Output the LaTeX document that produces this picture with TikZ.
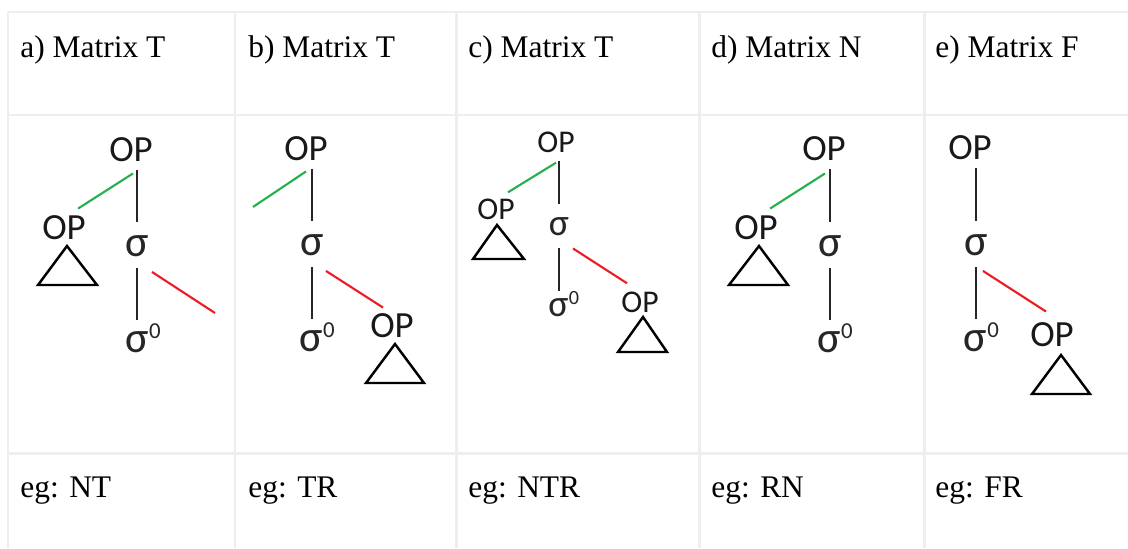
\documentclass[tikz,border=0pt]{standalone}
\usepackage{fontspec}
\setmainfont{Liberation Serif}
\newfontfamily\opfont{Carlito}
\definecolor{paintgreen}{RGB}{34,177,76}
\definecolor{paintred}{RGB}{237,28,36}
\definecolor{rulegray}{RGB}{238,238,238}
\newcommand{\sigzero}[2]{σ\kern0.3pt\raisebox{#1}{\fontsize{#2}{#2}\selectfont 0}}

\begin{document}
\begin{tikzpicture}[x=0.02cm, y=-0.02cm,
    cell/.style={anchor=base west, inner sep=0pt, font=\fontsize{17.9}{21}\selectfont},
    op/.style={inner sep=0pt, text=black!90, font=\opfont\fontsize{21}{24}\selectfont},
    small op/.style={op, font=\opfont\fontsize{18}{21}\selectfont},
    sg/.style={inner sep=0pt, text=black!85, font=\opfont\fontsize{25}{28}\selectfont},
    small sg/.style={sg, font=\opfont\fontsize{21.5}{24}\selectfont},
    gridline/.style={draw=rulegray, line width=1.7pt},
    upper stem/.style={line width=1.2pt, black!85, shorten <=4.5pt, shorten >=7.5pt},
    lower stem/.style={line width=1.2pt, black!85, shorten <=6.5pt, shorten >=1.5pt},
    greenbr/.style={line width=1.2pt, paintgreen},
    redbr/.style={line width=1.2pt, paintred},
    tri/.style={line width=1.4pt, line join=miter}]
    \fill[white] (0,0) rectangle (1128,548);
    \useasboundingbox (0,0) rectangle (1128,548);

    \draw[gridline] (8,12) -- (1128,12);
    \draw[gridline] (8,115) -- (1128,115);
    \draw[gridline] (8,453) -- (1128,453);
    \foreach \x in {8,235,456,699,924}
        \draw[gridline] (\x,12) -- (\x,548);

    \node[cell] (head-a) at (20,57) {a) Matrix T};
    \node[cell] (head-b) at (248,57) {b) Matrix T};
    \node[cell] (head-c) at (468,57) {c) Matrix T};
    \node[cell] (head-d) at (711,57) {d) Matrix N};
    \node[cell] (head-e) at (935,57) {e) Matrix F};

    \node[cell] (eg-a) at (20,497) {eg: NT};
    \node[cell] (eg-b) at (248,497) {eg: TR};
    \node[cell] (eg-c) at (468,497) {eg: NTR};
    \node[cell] (eg-d) at (711,497) {eg: RN};
    \node[cell] (eg-e) at (935,497) {eg: FR};

    % a
    \node[op] (a-top) at (131,150) {OP};
    \node[op] (a-left) at (64,228) {OP};
    \node[sg] (a-sig) at (137,246) {σ};
    \node[sg, anchor=south west] (a-sz) at (125,353) {\sigzero{8pt}{13}};
    \coordinate (a-free) at (215,313);
    \draw[upper stem] (a-top.south -| a-sig) -- (a-sig.north);
    \draw[lower stem] (a-sig.south) -- (a-sig.south |- a-sz.north);
    \draw[greenbr] ([shift={(2,11)}]a-top.south) -- ([shift={(-8,-7)}]a-left.north east);
    \draw[redbr] ([shift={(15,15)}]a-sig.south) -- (a-free);
    \draw[tri] (67,246) -- (97,285) -- (38,285) -- cycle;

    % b
    \node[op] (b-top) at (306,149) {OP};
    \node[sg] (b-sig) at (312,245) {σ};
    \node[sg, anchor=south west] (b-sz) at (299,352) {\sigzero{8pt}{13}};
    \node[op] (b-right) at (392,326) {OP};
    \coordinate (b-free) at (253,207);
    \draw[upper stem] (b-top.south -| b-sig) -- (b-sig.north);
    \draw[lower stem] (b-sig.south) -- (b-sig.south |- b-sz.north);
    \draw[greenbr] ([shift={(0,10)}]b-top.south) -- (b-free);
    \draw[redbr] ([shift={(14,15)}]b-sig.south) -- ([shift={(-9,-6)}]b-right.north);
    \draw[tri] (395,344) -- (424,383) -- (366,383) -- cycle;

    % c
    \node[small op] (c-top) at (556,142) {OP};
    \node[small op] (c-left) at (496,209) {OP};
    \node[small sg] (c-sig) at (559,227) {σ};
    \node[small sg, anchor=south west] (c-sz) at (548,317) {\sigzero{7pt}{11.5}};
    \node[small op] (c-right) at (640,302) {OP};
    \draw[upper stem] (c-top.south -| c-sig) -- (c-sig.north);
    \draw[lower stem, shorten >=0pt] (c-sig.south) -- (c-sig.south |- c-sz.north);
    \draw[greenbr] ([shift={(0,10)}]c-top.south) -- ([shift={(-7,-6)}]c-left.north east);
    \draw[redbr] ([shift={(14,12)}]c-sig.south) -- ([shift={(-13,-8)}]c-right.north);
    \draw[tri] (497,225) -- (524,259) -- (473,259) -- cycle;
    \draw[tri] (643,317) -- (667,352) -- (618,352) -- cycle;

    % d
    \node[op] (d-top) at (824,149) {OP};
    \node[op] (d-left) at (756,228) {OP};
    \node[sg] (d-sig) at (830,246) {σ};
    \node[sg, anchor=south west] (d-sz) at (817,353) {\sigzero{8pt}{13}};
    \draw[upper stem] (d-top.south -| d-sig) -- (d-sig.north);
    \draw[lower stem] (d-sig.south) -- (d-sig.south |- d-sz.north);
    \draw[greenbr] ([shift={(1,12)}]d-top.south) -- ([shift={(-8,-7)}]d-left.north east);
    \draw[tri] (759,246) -- (788,285) -- (729,285) -- cycle;

    % e
    \node[op] (e-top) at (970,148) {OP};
    \node[sg] (e-sig) at (976,245) {σ};
    \node[sg, anchor=south west] (e-sz) at (963,352) {\sigzero{8pt}{13}};
    \node[op] (e-right) at (1052,335) {OP};
    \draw[upper stem] (e-top.south -| e-sig) -- (e-sig.north);
    \draw[lower stem] (e-sig.south) -- (e-sig.south |- e-sz.north);
    \draw[redbr] ([shift={(7,15)}]e-sig.south) -- ([shift={(-6,-11)}]e-right.north);
    \draw[tri] (1061,355) -- (1090,394) -- (1032,394) -- cycle;
\end{tikzpicture}
\end{document}
